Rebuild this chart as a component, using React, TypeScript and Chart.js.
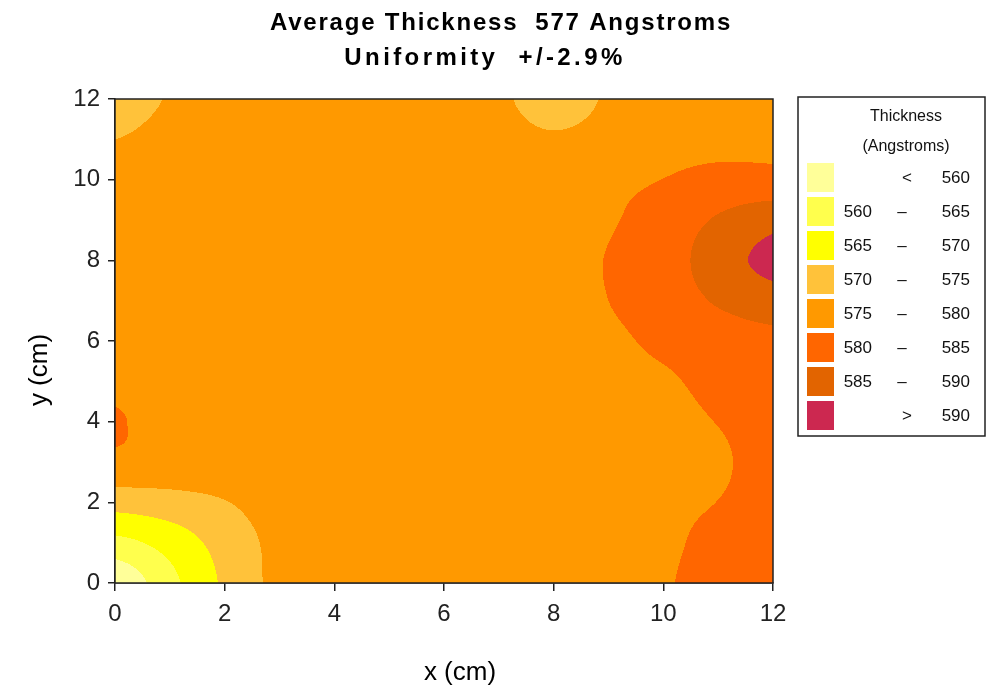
import React, { useEffect, useRef } from "react";
import { Chart, registerables } from "chart.js";

Chart.register(...registerables);

// ---- Data (thickness measurements in Angstroms on a 1 cm grid) ----
const xCoords = [0, 1, 2, 3, 4, 5, 6, 7, 8, 9, 10, 11, 12];
const yCoords = [0, 1, 2, 3, 4, 5, 6, 7, 8, 9, 10, 11, 12];

// each row: thickness at x = 0..12 for the given y
const thicknessY0 = [556, 563.5, 570.8, 576.3, 577.3, 577.5, 577.5, 577.6, 577.8, 578, 579.6, 581.5, 582.5];
const thicknessY1 = [563.5, 567, 572, 576.3, 577.5, 577.5, 577.5, 577.6, 577.8, 578, 579.3, 581, 582];
const thicknessY2 = [572, 573, 574.8, 577, 577.5, 577.5, 577.5, 577.6, 577.8, 578, 579.2, 580.05, 581.5];
const thicknessY3 = [579, 578.5, 578, 577.6, 577.5, 577.5, 577.5, 577.6, 577.8, 578, 578.8, 579.5, 581.5];
const thicknessY4 = [580.3, 578.5, 577.8, 577.5, 577.5, 577.5, 577.5, 577.6, 577.8, 578, 579, 580.1, 581.5];
const thicknessY5 = [579, 578, 577.6, 577.5, 577.5, 577.5, 577.5, 577.6, 577.8, 578.5, 579.5, 581, 582];
const thicknessY6 = [577.8, 577.6, 577.5, 577.5, 577.5, 577.5, 577.5, 577.6, 578, 579.2, 580.8, 582, 583.2];
const thicknessY7 = [577.5, 577.5, 577.5, 577.5, 577.5, 577.5, 577.5, 577.6, 578, 580, 582, 585.6, 588.2];
const thicknessY8 = [577.5, 577.5, 577.5, 577.5, 577.5, 577.5, 577.5, 577.7, 578.2, 580.2, 582.2, 588, 591];
const thicknessY9 = [577.5, 577.5, 577.5, 577.5, 577.5, 577.5, 577.5, 577.6, 578, 579.6, 581.8, 585.6, 588.6];
const thicknessY10 = [577.5, 577.5, 577.5, 577.5, 577.5, 577.5, 577.5, 577.5, 577.8, 579, 580.05, 581.2, 581.2];
const thicknessY11 = [575, 576.5, 577.3, 577.5, 577.5, 577.5, 577.5, 576.5, 575.5, 576.6, 578.5, 579, 579.3];
const thicknessY12 = [573, 575.3, 577, 577.5, 577.5, 577.5, 577.3, 575.64, 573.5, 575.4, 577.5, 578.5, 578.5];

const thicknessRows = [
  thicknessY0, thicknessY1, thicknessY2, thicknessY3, thicknessY4, thicknessY5, thicknessY6,
  thicknessY7, thicknessY8, thicknessY9, thicknessY10, thicknessY11, thicknessY12,
];

// contour bands
const bandEdges = [560, 565, 570, 575, 580, 585, 590];
const bandColors = ["#FFFF99", "#FFFF4D", "#FFFF00", "#FFC23A", "#FF9900", "#FF6600", "#E26400", "#CC2850"];
const bandLow = ["", "560", "565", "570", "575", "580", "585", ""];
const bandSep = ["<", "\u2013", "\u2013", "\u2013", "\u2013", "\u2013", "\u2013", ">"];
const bandHigh = ["560", "565", "570", "575", "580", "585", "590", "590"];

const axisTicks = [0, 2, 4, 6, 8, 10, 12];
const titleLines = ["Average Thickness  577 Angstroms", "Uniformity  +/-2.9%"];
const legendTitle = ["Thickness", "(Angstroms)"];
const xTitle = "x (cm)";
const yTitle = "y (cm)";

const FONT = '"Liberation Sans", Arial, sans-serif';

function findCell(coords: number[], v: number) {
  let i = 0;
  while (i < coords.length - 2 && v > coords[i + 1]) i++;
  const t = (v - coords[i]) / (coords[i + 1] - coords[i]);
  return { i, t: Math.max(0, Math.min(1, t)) };
}

// Catmull-Rom spline through four neighbouring samples
function cr(p0: number, p1: number, p2: number, p3: number, t: number) {
  return 0.5 * (2 * p1 + (-p0 + p2) * t + (2 * p0 - 5 * p1 + 4 * p2 - p3) * t * t + (-p0 + 3 * p1 - 3 * p2 + p3) * t * t * t);
}

function rowAt(row: number[], i: number, t: number) {
  const n = row.length - 1;
  const g = (k: number) => row[Math.max(0, Math.min(n, k))];
  return cr(g(i - 1), g(i), g(i + 1), g(i + 2), t);
}

function thicknessAt(xv: number, yv: number) {
  const cx = findCell(xCoords, xv);
  const cy = findCell(yCoords, yv);
  const n = thicknessRows.length - 1;
  const r = (k: number) => rowAt(thicknessRows[Math.max(0, Math.min(n, k))], cx.i, cx.t);
  return cr(r(cy.i - 1), r(cy.i), r(cy.i + 1), r(cy.i + 2), cy.t);
}

function bandOf(v: number) {
  let k = 0;
  while (k < bandEdges.length && v >= bandEdges[k]) k++;
  return k;
}

function hexToRgb(h: string) {
  const n = parseInt(h.slice(1), 16);
  return [(n >> 16) & 255, (n >> 8) & 255, n & 255];
}

const contourPlugin = {
  id: "contourFill",
  beforeDatasetsDraw(chart: any) {
    const { ctx, chartArea: a, scales } = chart;
    const xs = scales.x;
    const ys = scales.y;
    const left = Math.round(a.left);
    const top = Math.round(a.top);
    const w = Math.round(a.right) - left;
    const h = Math.round(a.bottom) - top;
    const off = document.createElement("canvas");
    off.width = w;
    off.height = h;
    const octx = off.getContext("2d")!;
    const img = octx.createImageData(w, h);
    const rgb = bandColors.map(hexToRgb);
    for (let j = 0; j < h; j++) {
      const yv = ys.getValueForPixel(top + j + 0.5);
      for (let i = 0; i < w; i++) {
        const xv = xs.getValueForPixel(left + i + 0.5);
        const c = rgb[bandOf(thicknessAt(xv, yv))];
        const p = (j * w + i) * 4;
        img.data[p] = c[0];
        img.data[p + 1] = c[1];
        img.data[p + 2] = c[2];
        img.data[p + 3] = 255;
      }
    }
    octx.putImageData(img, 0, 0);
    ctx.drawImage(off, left, top);
  },
  afterDraw(chart: any) {
    const { ctx, chartArea: a } = chart;
    ctx.save();
    // frame
    ctx.strokeStyle = "#222";
    ctx.lineWidth = 1.5;
    ctx.strokeRect(a.left, a.top, a.right - a.left, a.bottom - a.top);

    // chart title
    ctx.fillStyle = "#000";
    ctx.textAlign = "center";
    ctx.textBaseline = "alphabetic";
    ctx.font = `bold 24px ${FONT}`;
    (ctx as any).letterSpacing = "1.8px";
    ctx.fillText(titleLines[0], 501, 30);
    (ctx as any).letterSpacing = "3.4px";
    ctx.fillText(titleLines[1], 485, 65);
    (ctx as any).letterSpacing = "0px";

    // axis titles
    ctx.font = `26px ${FONT}`;
    ctx.textAlign = "center";
    ctx.textBaseline = "middle";
    ctx.fillText(xTitle, (a.left + a.right) / 2 + 16, a.bottom + 90);
    ctx.save();
    ctx.translate(a.left - 75, (a.top + a.bottom) / 2 + 29);
    ctx.rotate(-Math.PI / 2);
    ctx.fillText(yTitle, 0, 0);
    ctx.restore();

    // legend
    const lx = a.right + 25;
    const ly = a.top - 2;
    const lw = chart.width - 1 - lx;
    const lh = 339;
    ctx.fillStyle = "#fff";
    ctx.fillRect(lx, ly, lw, lh);
    ctx.strokeStyle = "#222";
    ctx.lineWidth = 1.5;
    ctx.strokeRect(lx, ly, lw, lh);
    ctx.fillStyle = "#111";
    ctx.font = `16px ${FONT}`;
    ctx.textAlign = "center";
    ctx.fillText(legendTitle[0], lx + 108, ly + 20);
    ctx.fillText(legendTitle[1], lx + 108, ly + 50);
    ctx.font = `17px ${FONT}`;
    for (let k = 0; k < bandColors.length; k++) {
      const sy = ly + 66 + k * 34;
      ctx.fillStyle = bandColors[k];
      ctx.fillRect(lx + 9, sy, 27, 29);
      ctx.fillStyle = "#111";
      const cy = sy + 15;
      ctx.textAlign = "right";
      if (bandLow[k]) ctx.fillText(bandLow[k], lx + 74, cy);
      ctx.fillText(bandHigh[k], lx + 172, cy);
      ctx.textAlign = "center";
      ctx.fillText(bandSep[k], lx + (bandLow[k] ? 104 : 109), cy);
    }
    ctx.restore();
  },
};

export default function App() {
  const ref = useRef<HTMLCanvasElement>(null);
  useEffect(() => {
    document.body.style.margin = "0";
    const points: { x: number; y: number }[] = [];
    yCoords.forEach((yv) => xCoords.forEach((xv) => points.push({ x: xv, y: yv })));
    const tickStyle = {
      font: { family: FONT, size: 24 },
      color: "#222",
    };
    const chart = new Chart(ref.current!, {
      type: "scatter",
      data: {
        datasets: [
          {
            label: "Thickness",
            data: points,
            pointRadius: 0,
            pointHoverRadius: 0,
            showLine: false,
          },
        ],
      },
      options: {
        animation: false,
        responsive: false,
        devicePixelRatio: 1,
        events: [],
        layout: { padding: { left: 0, right: 213, top: 99, bottom: 0 } },
        plugins: {
          legend: { display: false },
          tooltip: { enabled: false },
          title: { display: false },
        },
        scales: {
          x: {
            type: "linear",
            min: 0,
            max: 12,
            afterBuildTicks: (s: any) => {
              s.ticks = axisTicks.map((v) => ({ value: v }));
            },
            afterFit: (s: any) => {
              s.height = 110;
              s.paddingLeft = 0;
              s.paddingRight = 0;
            },
            ticks: { ...tickStyle, padding: 9, maxRotation: 0 },
            grid: { display: true, drawOnChartArea: false, drawTicks: true, tickLength: 8, color: "#222", lineWidth: 1.5 },
            border: { display: true, color: "#222", width: 1.5 },
          },
          y: {
            type: "linear",
            min: 0,
            max: 12,
            afterBuildTicks: (s: any) => {
              s.ticks = axisTicks.map((v) => ({ value: v }));
            },
            afterFit: (s: any) => {
              s.width = 115;
              s.paddingTop = 0;
              s.paddingBottom = 0;
            },
            ticks: { ...tickStyle, padding: 8 },
            grid: { display: true, drawOnChartArea: false, drawTicks: true, tickLength: 7, color: "#222", lineWidth: 1.5 },
            border: { display: true, color: "#222", width: 1.5 },
          },
        },
      },
      plugins: [contourPlugin],
    } as any);
    return () => chart.destroy();
  }, []);
  return (
    <div style={{ width: 986, height: 693, position: "relative", background: "#fff" }}>
      <canvas ref={ref} width={986} height={693} style={{ display: "block" }} />
    </div>
  );
}
